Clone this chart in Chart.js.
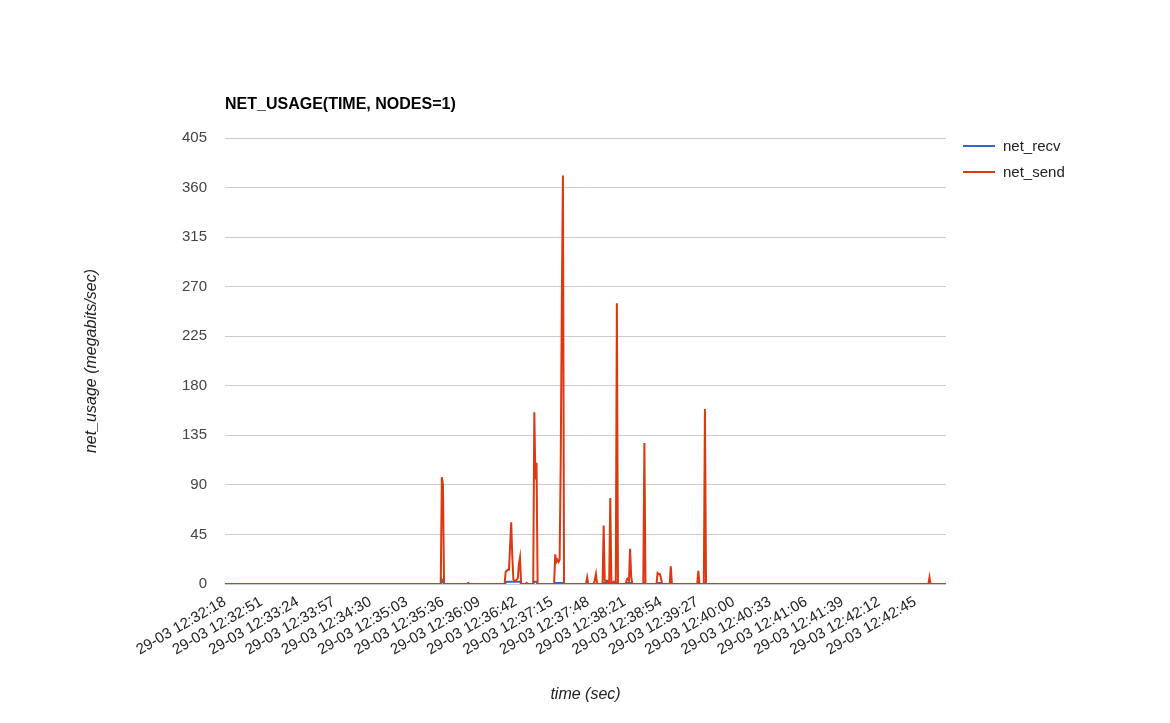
<!DOCTYPE html>
<html>
<head>
<meta charset="utf-8">
<script src="https://cdn.jsdelivr.net/npm/chart.js@4.4.1/dist/chart.umd.min.js"></script>
<style>
html,body{margin:0;padding:0;background:#fff;}
canvas{display:block;}
</style>
</head>
<body>
<canvas id="c" width="1170" height="723"></canvas>
<script>
// ---- data ----
const chartTitle = "NET_USAGE(TIME, NODES=1)";
const xTitle = "time (sec)";
const yTitle = "net_usage (megabits/sec)";
const startTime = "12:32:18";
const endSecond = 655;
const tickLabels = [
  "29-03 12:32:18","29-03 12:32:51","29-03 12:33:24","29-03 12:33:57","29-03 12:34:30",
  "29-03 12:35:03","29-03 12:35:36","29-03 12:36:09","29-03 12:36:42","29-03 12:37:15",
  "29-03 12:37:48","29-03 12:38:21","29-03 12:38:54","29-03 12:39:27","29-03 12:40:00",
  "29-03 12:40:33","29-03 12:41:06","29-03 12:41:39","29-03 12:42:12","29-03 12:42:45"
];
const yTicks = [0,45,90,135,180,225,270,315,360,405];
const seriesNames = ["net_recv","net_send"];
const seriesColors = ["#3366cc","#dc3912"];
// seconds since 12:32:18
const seconds = [0,
  196,197,198,199,
  220,221,222,
  254,255,256,257,258,259,260,261,262,263,264,265,266,267,268,269,
  273,274,275,
  279,280,281,282,283,284,
  299,300,301,302,303,304,305,306,307,308,
  328,329,330,
  335,336,337,338,
  343,344,345,346,347,348,349,350,351,352,353,354,355,356,357,
  364,365,366,367,368,369,370,
  380,381,382,
  392,393,394,395,396,397,
  404,405,406,
  429,430,431,
  435,436,437,
  639,640,641,
  655];
const netSend = [0,
  0,97,90,0,
  0,1,0,
  0,11,12,13,13,35,56,25,4,3,3,4,5,18,24,0,
  0,1,0,
  0,0,156,95,110,0,
  0,27,20,22,20,22,112,256,371,0,
  0,6,0,
  0,4,9,0,
  0,53,3,2,3,2,0,78,2,0,2,2,0,255,0,
  0,4,5,3,32,7,0,
  0,128,0,
  0,10,9,9,6,0,
  0,16,0,
  0,12,0,
  0,159,0,
  0,6,0,
  0];
const netRecv = [0,
  0,4,2,0,
  0,0,0,
  0,1,2,2,2,2,2,2,2,2,2,2,2,2,2,0,
  0,0,0,
  0,0,2,2,2,0,
  0,1,1,1,1,1,1,1,1,0,
  0,0,0,
  0,0,0,0,
  0,1,1,1,1,1,0,1,1,0,1,1,0,1,0,
  0,1,1,1,1,1,0,
  0,1,0,
  0,1,1,1,1,0,
  0,0,0,
  0,0,0,
  0,1,0,
  0,0,0,
  0];

// ---- helpers ----
function toSec(hms){const p=hms.split(':').map(Number);return p[0]*3600+p[1]*60+p[2];}
const t0 = toSec(startTime);
const tickSeconds = tickLabels.map(l => toSec(l.split(' ')[1]) - t0);

const FONT = "'Liberation Sans', Arial, sans-serif";
const AREA = {left:225, top:138, right:946, bottom:584};

const overlay = {
  id:'overlay',
  afterDraw(chart){
    const ctx = chart.ctx;
    ctx.save();
    // title
    ctx.fillStyle = '#000';
    ctx.font = "bold 16px " + FONT;
    ctx.textAlign = 'left';
    ctx.textBaseline = 'middle';
    ctx.fillText(chartTitle, chart.chartArea.left, 105);
    // legend
    ctx.font = "15px " + FONT;
    seriesNames.forEach((n,i)=>{
      const y = 146 + i*26;
      ctx.strokeStyle = seriesColors[i];
      ctx.lineWidth = 2;
      ctx.beginPath(); ctx.moveTo(963,y); ctx.lineTo(995,y); ctx.stroke();
      ctx.fillStyle = '#222';
      ctx.fillText(n, 1003, y + 1);
    });
    ctx.restore();
  }
};

new Chart(document.getElementById('c'), {
  type:'line',
  data:{
    datasets:[
      {label:seriesNames[0], data:seconds.map((s,i)=>({x:s,y:netRecv[i]})), borderColor:seriesColors[0], backgroundColor:seriesColors[0], borderWidth:2, pointRadius:0, tension:0, order:1},
      {label:seriesNames[1], data:seconds.map((s,i)=>({x:s,y:netSend[i]})), borderColor:seriesColors[1], backgroundColor:seriesColors[1], borderWidth:2, pointRadius:0, tension:0, order:0}
    ]
  },
  options:{
    responsive:false,
    animation:false,
    devicePixelRatio:1,
    layout:{padding:{left:0, top:AREA.top, right:1170-AREA.right, bottom:0}},
    plugins:{legend:{display:false}, tooltip:{enabled:false}, title:{display:false}},
    scales:{
      x:{
        type:'linear', min:0, max:endSecond, offset:false,
        grid:{display:false, drawTicks:false},
        border:{display:false},
        afterBuildTicks(scale){ scale.ticks = tickSeconds.map(v=>({value:v})); },
        afterFit(scale){ scale.height = 723 - AREA.bottom; },
        ticks:{
          autoSkip:false, maxRotation:30, minRotation:30, padding:9,
          color:'#222', font:{family:FONT, size:15},
          callback:(v,i)=>tickLabels[i]
        },
        title:{display:true, text:xTitle, color:'#222', font:{family:FONT, size:16, style:'italic', lineHeight:1.2}, padding:{top:0,bottom:19}}
      },
      y:{
        type:'linear', min:0, max:405,
        grid:{color:'#cccccc', lineWidth:1, drawTicks:false},
        border:{display:false},
        afterBuildTicks(scale){ scale.ticks = yTicks.map(v=>({value:v})); },
        afterFit(scale){ scale.width = AREA.left; },
        ticks:{padding:18, color:'#444', font:{family:FONT, size:15}},
        title:{display:true, text:yTitle, color:'#222', font:{family:FONT, size:16, style:'italic', lineHeight:1.2}, padding:{top:82,bottom:0}}
      }
    }
  },
  plugins:[overlay]
});
</script>
</body>
</html>
